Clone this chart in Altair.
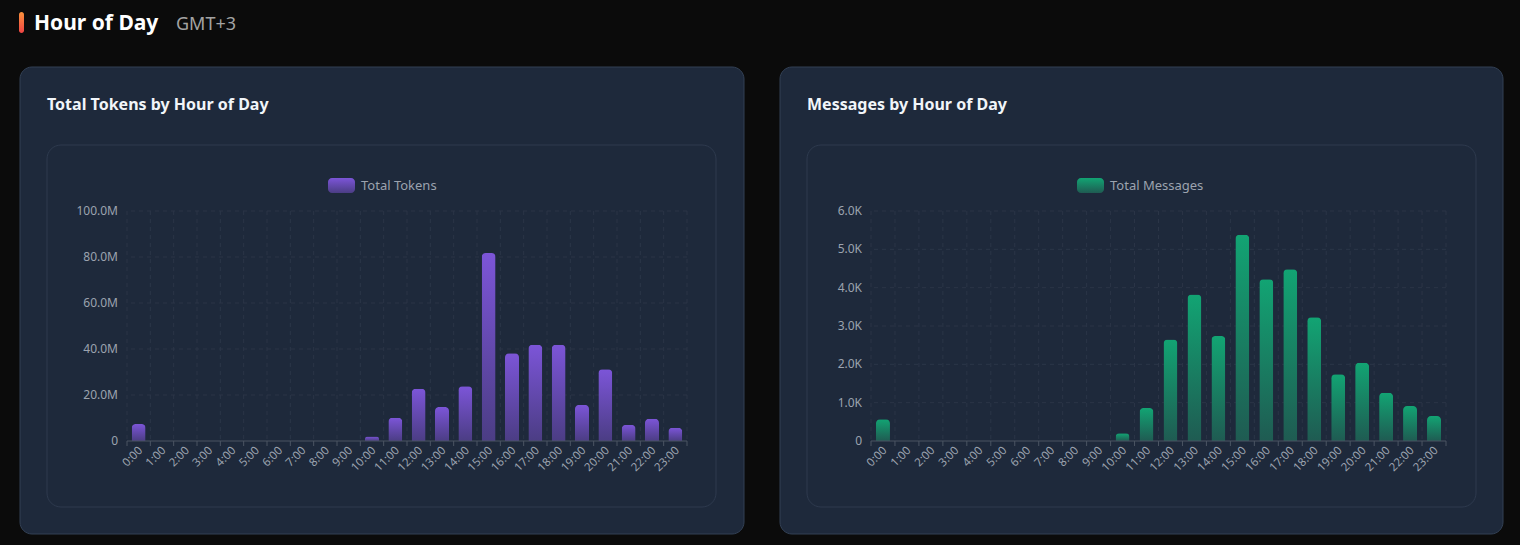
import altair as alt
import pandas as pd

hours = [f"{h}:00" for h in range(24)]
tokens = [7.4e6, 0, 0, 0, 0, 0, 0, 0, 0, 0, 2.0e6, 10.1e6, 22.7e6, 14.8e6, 23.8e6,
          81.7e6, 38.1e6, 41.9e6, 41.9e6, 15.7e6, 31.2e6, 7.0e6, 9.7e6, 5.8e6]
messages = [570, 0, 0, 0, 0, 0, 0, 0, 0, 0, 200, 860, 2650, 3820, 2740,
            5380, 4220, 4480, 3230, 1740, 2040, 1260, 910, 650]
token_ticks = [0, 20e6, 40e6, 60e6, 80e6, 100e6]
token_tick_labels = ["0", "20.0M", "40.0M", "60.0M", "80.0M", "100.0M"]
message_ticks = [0, 1000, 2000, 3000, 4000, 5000, 6000]
message_tick_labels = ["0", "1.0K", "2.0K", "3.0K", "4.0K", "5.0K", "6.0K"]

FONT = "Noto Sans"
BG = "#0b0b0b"
CARD = "#1e293b"
CARD_STROKE = "#334155"
INNER_STROKE = "#2e3a4e"
GRID = "#2b3547"
LABEL = "#9ca3af"
AXIS = "#4b5563"
PH = 230


def one():
    return pd.DataFrame({"k": [0]})


def panel(values, ticks, tick_labels, ymax, top_c, bot_c, title, legend_label,
          width, outer, inner, swatch_x, page_decor=False):
    df = pd.DataFrame({"hour": hours, "value": values})
    tdf = pd.DataFrame({"t": ticks, "lab": tick_labels})
    xscale = alt.Scale(domain=hours, paddingInner=0, paddingOuter=0)
    yscale = alt.Scale(domain=[0, ymax], nice=False, zero=True)
    grad = alt.Gradient(gradient="linear", x1=0, x2=0, y1=0, y2=1,
                        stops=[alt.GradientStop(color=top_c, offset=0),
                               alt.GradientStop(color=bot_c, offset=1)])
    X = lambda **kw: alt.X("hour:N", scale=xscale, sort=hours, axis=None, **kw)
    layers = []
    if page_decor:
        layers.append(alt.Chart(one()).mark_rect(color=BG).encode(
            x=alt.value(-127), x2=alt.value(1393), y=alt.value(-211), y2=alt.value(334)))
        hgrad = alt.Gradient(gradient="linear", x1=0, x2=0, y1=0, y2=1,
                             stops=[alt.GradientStop(color="#fb923c", offset=0),
                                    alt.GradientStop(color="#ef4444", offset=1)])
        layers.append(alt.Chart(one()).mark_rect(color=hgrad, cornerRadius=2.5).encode(
            x=alt.value(-108), x2=alt.value(-103), y=alt.value(-199), y2=alt.value(-178)))
        layers.append(alt.Chart(one()).mark_text(
            align="left", baseline="alphabetic", font=FONT, fontSize=21,
            fontWeight="bold", color="#ffffff").encode(
            x=alt.value(-93), y=alt.value(-181), text=alt.value("Hour of Day")))
        layers.append(alt.Chart(one()).mark_text(
            align="left", baseline="alphabetic", font=FONT, fontSize=18,
            color="#a3a3a3").encode(
            x=alt.value(49), y=alt.value(-181), text=alt.value("GMT+3")))
    # outer card
    layers.append(alt.Chart(one()).mark_rect(
        color=CARD, stroke=CARD_STROKE, strokeWidth=1, cornerRadius=12).encode(
        x=alt.value(outer[0]), x2=alt.value(outer[1]), y=alt.value(-144), y2=alt.value(323)))
    # inner card
    layers.append(alt.Chart(one()).mark_rect(
        color=CARD, stroke=INNER_STROKE, strokeWidth=1, cornerRadius=14).encode(
        x=alt.value(inner[0]), x2=alt.value(inner[1]), y=alt.value(-66), y2=alt.value(296)))
    # card title
    layers.append(alt.Chart(one()).mark_text(
        align="left", baseline="alphabetic", font=FONT, fontSize=16,
        fontWeight="bold", color="#f1f5f9").encode(
        x=alt.value(inner[0]), y=alt.value(-101), text=alt.value(title)))
    # legend
    layers.append(alt.Chart(one()).mark_rect(color=grad, cornerRadius=4).encode(
        x=alt.value(swatch_x), x2=alt.value(swatch_x + 27), y=alt.value(-33), y2=alt.value(-18)))
    layers.append(alt.Chart(one()).mark_text(
        align="left", baseline="middle", font=FONT, fontSize=13, color=LABEL).encode(
        x=alt.value(swatch_x + 33), y=alt.value(-25.5), text=alt.value(legend_label)))
    # horizontal grid
    layers.append(alt.Chart(tdf[tdf["t"] > 0]).mark_rule(
        color=GRID, strokeDash=[4, 4], strokeWidth=1).encode(
        y=alt.Y("t:Q", scale=yscale, axis=None)))
    # vertical grid
    layers.append(alt.Chart(df).mark_rule(
        color=GRID, strokeDash=[4, 4], strokeWidth=1).encode(x=X(bandPosition=0)))
    layers.append(alt.Chart(one()).mark_rule(
        color=GRID, strokeDash=[4, 4], strokeWidth=1).encode(
        x=alt.value(width), y=alt.value(0), y2=alt.value(PH)))
    # bars
    layers.append(alt.Chart(df).mark_bar(
        color=grad, width=14, cornerRadiusTopLeft=4, cornerRadiusTopRight=4).encode(
        x=X(), y=alt.Y("value:Q", scale=yscale, axis=None)))
    # axis line and ticks at category boundaries
    layers.append(alt.Chart(one()).mark_rule(color=AXIS).encode(
        x=alt.value(0), x2=alt.value(width), y=alt.value(PH)))
    layers.append(alt.Chart(df).mark_rule(color=AXIS).encode(
        x=X(bandPosition=0), y=alt.value(PH), y2=alt.value(PH + 5)))
    layers.append(alt.Chart(one()).mark_rule(color=AXIS).encode(
        x=alt.value(width), y=alt.value(PH), y2=alt.value(PH + 5)))
    # x labels
    layers.append(alt.Chart(df).mark_text(
        align="right", baseline="middle", angle=315, font=FONT, fontSize=11.5,
        color=LABEL).encode(
        x=X(bandPosition=0.6), y=alt.value(PH + 8), text="hour:N"))
    # y labels
    layers.append(alt.Chart(tdf).mark_text(
        align="right", baseline="middle", font=FONT, fontSize=12, color=LABEL).encode(
        x=alt.value(-9), y=alt.Y("t:Q", scale=yscale, axis=None), text="lab:N"))
    return alt.layer(*layers).properties(width=width, height=PH)


left = panel(tokens, token_ticks, token_tick_labels,
             100e6, "#7c55d8", "#4b3d84", "Total Tokens by Hour of Day", "Total Tokens",
             560, (-107, 617), (-80, 589), 201, page_decor=True)
right = panel(messages, message_ticks, message_tick_labels,
              6000, "#12a473", "#1f5b52", "Messages by Hour of Day", "Total Messages",
              575, (-91, 632), (-64, 605), 206)

chart = alt.hconcat(left, right, spacing=184, bounds="flush").properties(
    padding=0, background=BG
).configure_view(stroke=None, fill=None)

chart.save("out.html", embed_options={"renderer": "svg", "actions": False})
